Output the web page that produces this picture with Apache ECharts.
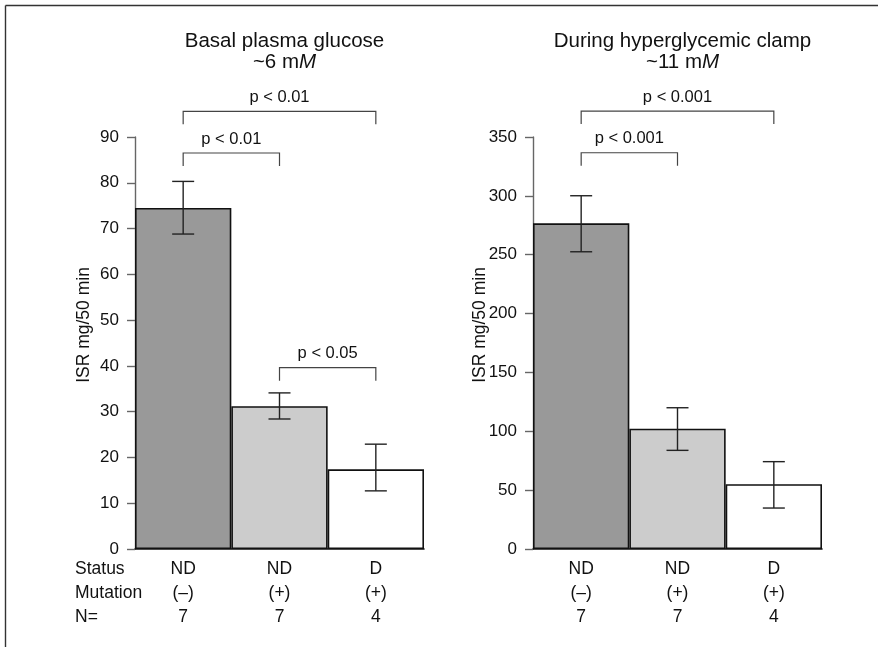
<!DOCTYPE html>
<html>
<head>
<meta charset="utf-8">
<script src="https://cdn.jsdelivr.net/npm/echarts@6/dist/echarts.min.js"></script>
<style>
  html, body { margin: 0; padding: 0; background: #fff; }
  #chart { width: 878px; height: 647px; }
</style>
</head>
<body>
<div id="chart"></div>
<script>
// Insulin secretion rate by group, two glucose conditions
const groupStatus   = ['ND', 'ND', 'D'];
const groupMutation = ['(\u2013)', '(+)', '(+)'];
const groupN        = ['7', '7', '4'];
const rowLabels     = ['Status', 'Mutation', 'N='];

// Basal plasma glucose (~6 mM)
const basalMean  = [74.5, 31.2, 17.4];
const basalLow   = [68.8, 28.4, 12.7];
const basalHigh  = [80.3, 34.1, 22.9];
// [from group, to group, level, label]
const basalBrackets = [
  [0, 2, 95.6, 'p < 0.01'],
  [0, 1, 86.5, 'p < 0.01'],
  [1, 2, 39.6, 'p < 0.05']
];

// Hyperglycemic clamp (~11 mM)
const clampMean  = [276.7, 102.2, 55.0];
const clampLow   = [252.5, 83.8, 34.8];
const clampHigh  = [300.1, 120.0, 74.2];
const clampBrackets = [
  [0, 2, 372.0, 'p < 0.001'],
  [0, 1, 336.6, 'p < 0.001']
];

const barColors = ['#999999', '#cccccc', '#ffffff'];
const FONT = 'Liberation Sans, Arial, sans-serif';

const catLabels = groupStatus.map((s, i) => s + '\n' + groupMutation[i] + '\n' + groupN[i]);

function errorRender(params, api) {
  const x = api.value(0);
  const lo = api.coord([x, api.value(1)]);
  const hi = api.coord([x, api.value(2)]);
  const cap = 11;
  const style = { stroke: '#222', lineWidth: 1.4 };
  return {
    type: 'group',
    children: [
      { type: 'line', shape: { x1: lo[0], y1: lo[1], x2: hi[0], y2: hi[1] }, style },
      { type: 'line', shape: { x1: lo[0] - cap, y1: lo[1], x2: lo[0] + cap, y2: lo[1] }, style },
      { type: 'line', shape: { x1: hi[0] - cap, y1: hi[1], x2: hi[0] + cap, y2: hi[1] }, style }
    ]
  };
}

function bracketRender(labels) {
  return function (params, api) {
    const a = api.coord([api.value(0), api.value(2)]);
    const b = api.coord([api.value(1), api.value(2)]);
    const drop = 13;
    return {
      type: 'group',
      children: [
        {
          type: 'polyline',
          shape: { points: [[a[0], a[1] + drop], [a[0], a[1]], [b[0], b[1]], [b[0], b[1] + drop]] },
          style: { stroke: '#444', lineWidth: 1.2, fill: null }
        },
        {
          type: 'text',
          x: (a[0] + b[0]) / 2, y: a[1] - 14,
          style: {
            text: labels[params.dataIndex], fontSize: 16.5, fontFamily: FONT, fill: '#111',
            align: 'center', verticalAlign: 'middle'
          }
        }
      ]
    };
  };
}

function panelSeries(idx, mean, low, high, brackets) {
  return [
    {
      type: 'bar', xAxisIndex: idx, yAxisIndex: idx,
      barCategoryGap: 0,
      data: mean.map((v, i) => ({
        value: v,
        itemStyle: { color: barColors[i], borderColor: '#111', borderWidth: 1.6 }
      })),
      silent: true, z: 2
    },
    {
      type: 'custom', xAxisIndex: idx, yAxisIndex: idx,
      data: mean.map((v, i) => [i, low[i], high[i]]),
      renderItem: errorRender, z: 3, silent: true
    },
    {
      type: 'custom', xAxisIndex: idx, yAxisIndex: idx,
      data: brackets.map(b => [b[0], b[1], b[2]]),
      renderItem: bracketRender(brackets.map(b => b[3])), clip: false, z: 4, silent: true
    }
  ];
}

function yAxis(idx, max, interval) {
  return {
    type: 'value', gridIndex: idx, min: 0, max, interval,
    axisLine: { show: true, lineStyle: { color: '#666', width: 1.4 } },
    axisTick: { show: true, length: 8, lineStyle: { color: '#666', width: 1.4 } },
    axisLabel: { fontSize: 17, fontFamily: FONT, color: '#111', margin: 16 },
    splitLine: { show: false }
  };
}

function xAxis(idx) {
  return {
    type: 'category', gridIndex: idx, data: catLabels,
    axisLine: { show: true, lineStyle: { color: '#111', width: 1.6 } },
    axisTick: { show: false },
    axisLabel: { fontSize: 17.5, fontFamily: FONT, color: '#111', lineHeight: 24, margin: 8 }
  };
}

const chart = echarts.init(document.getElementById('chart'), null, { renderer: 'canvas' });

const titleStyle = {
  fontSize: 20.5, fontWeight: 'normal', fontFamily: FONT, color: '#111', lineHeight: 21,
  rich: { i: { fontStyle: 'italic', fontSize: 20.5, fontFamily: FONT, color: '#111' } }
};

chart.setOption({
  backgroundColor: '#fff',
  animation: false,
  title: [
    { text: 'Basal plasma glucose\n~6 m{i|M}', left: 279.5, top: 26, textAlign: 'center', textStyle: titleStyle },
    { text: 'During hyperglycemic clamp\n~11 m{i|M}', left: 677.5, top: 26, textAlign: 'center', textStyle: titleStyle }
  ],
  grid: [
    { left: 135, top: 137, width: 289, height: 412 },
    { left: 533, top: 137, width: 289, height: 412 }
  ],
  xAxis: [xAxis(0), xAxis(1)],
  yAxis: [yAxis(0, 90, 10), yAxis(1, 350, 50)],
  series: [
    ...panelSeries(0, basalMean, basalLow, basalHigh, basalBrackets),
    ...panelSeries(1, clampMean, clampLow, clampHigh, clampBrackets)
  ],
  graphic: [
    { type: 'line', shape: { x1: 5.5, y1: 5.5, x2: 878, y2: 5.5 }, style: { stroke: '#333', lineWidth: 1.4 } },
    { type: 'line', shape: { x1: 5.5, y1: 5.5, x2: 5.5, y2: 647 }, style: { stroke: '#333', lineWidth: 1.4 } },
    {
      type: 'text', x: 84, y: 325, rotation: Math.PI / 2,
      style: { text: 'ISR mg/50 min', fontSize: 17.5, fontFamily: FONT, fill: '#111', align: 'center', verticalAlign: 'middle' }
    },
    {
      type: 'text', x: 480, y: 325, rotation: Math.PI / 2,
      style: { text: 'ISR mg/50 min', fontSize: 17.5, fontFamily: FONT, fill: '#111', align: 'center', verticalAlign: 'middle' }
    },
    ...rowLabels.map((t, i) => ({
      type: 'text', x: 75, y: 569 + i * 24,
      style: { text: t, fontSize: 17.5, fontFamily: FONT, fill: '#111', align: 'left', verticalAlign: 'middle' }
    }))
  ]
});
</script>
</body>
</html>
